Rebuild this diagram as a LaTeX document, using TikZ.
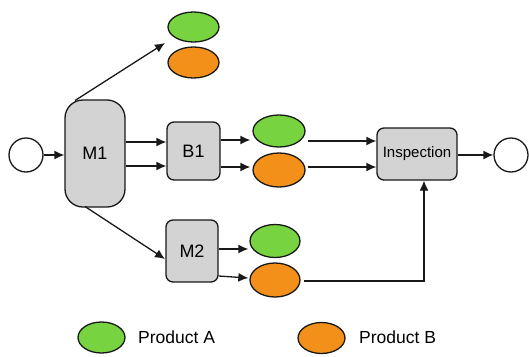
\documentclass[tikz,border=0pt]{standalone}
\usepackage{fontspec}
\setmainfont{Liberation Sans}
\usetikzlibrary{arrows.meta,shapes.geometric,calc}
\definecolor{boxgray}{HTML}{D3D3D3}
\definecolor{prodA}{HTML}{77D33F}
\definecolor{prodB}{HTML}{F39019}
\tikzset{
  ln/.style={line width=1.3pt, draw=black!90},
  arr/.style={ln, -{Latex[length=10pt,width=9pt]}},
  proc/.style={ln, fill=boxgray, rounded corners=7pt, inner sep=0pt, font=\fontsize{18}{18}\selectfont},
  term/.style={ln, circle, fill=white, minimum size=34pt, inner sep=0pt},
  pa/.style={ln, ellipse, fill=prodA, inner sep=0pt},
  pb/.style={ln, ellipse, fill=prodB, inner sep=0pt},
  lbl/.style={anchor=west, inner sep=0pt, font=\fontsize{17.5}{18}\selectfont}
}
\begin{document}
\begin{tikzpicture}[x=1pt,y=-1pt]
\useasboundingbox (0,0) rectangle (529,356);
% terminals
\node[term] (start) at (26,155) {};
\node[term] (end) at (511,155) {};
% process boxes
\node[proc, rounded corners=18pt, minimum width=60pt, minimum height=107pt] (M1) at (95,153.5) {M1};
\node[proc, minimum width=53pt, minimum height=58pt] (B1) at (193.5,151) {B1};
\node[proc, minimum width=52pt, minimum height=62pt] (M2) at (192,251) {M2};
\node[proc, minimum width=80pt, minimum height=52pt, font=\fontsize{15}{15}\selectfont] (insp) at (417,154) {Inspection};
% products
\node[pa, minimum width=51pt, minimum height=30pt] (gA1) at (193.5,27) {};
\node[pb, minimum width=51pt, minimum height=31pt] (gB1) at (193.5,62.5) {};
\node[pa, minimum width=52pt, minimum height=32pt] (gA2) at (279,131) {};
\node[pb, minimum width=52pt, minimum height=34pt] (gB2) at (279,170) {};
\node[pa, minimum width=50pt, minimum height=33pt] (gA3) at (275,241) {};
\node[pb, minimum width=50pt, minimum height=34pt] (gB3) at (275,280) {};
% legend
\node[pa, minimum width=47pt, minimum height=31pt] (lA) at (101.5,337.5) {};
\node[lbl] (tA) at (138,337) {Product A};
\node[pb, minimum width=47pt, minimum height=31pt] (lB) at (321.5,338) {};
\node[lbl] (tB) at (359,337) {Product B};
% connectors
\coordinate (t1) at (165,43);
\coordinate (m1top) at (75,100.5);
\coordinate (m1bot) at (85,206.5);
\coordinate (m2in) at (165,259);
\draw[arr] (start.east) -- (start.east -| M1.west);
\draw[arr] (m1top) -- (t1);
\draw[arr] (M1.east |- 0,142) -- (B1.west |- 0,142);
\draw[arr] (M1.east |- 0,166) -- (B1.west |- 0,166);
\draw[arr] (m1bot) -- (m2in);
\draw[arr] (B1.east |- 0,140) -- ([xshift=-2pt]gA2.west |- 0,140);
\draw[arr] (B1.east |- 0,167) -- ([xshift=-2pt]gB2.west |- 0,167);
\draw[arr] ([xshift=2pt]gA2.east |- 0,141) -- (insp.west |- 0,141);
\draw[arr] ([xshift=2pt]gB2.east |- 0,167) -- (insp.west |- 0,167);
\draw[arr] (insp.east |- end.west) -- (end.west);
\draw[arr] (M2.east |- 0,249) -- ([xshift=-1pt]gA3.west |- 0,249);
\draw[arr] (M2.east |- 0,276) -- ([xshift=-1pt]gB3.west |- 0,278);
\draw[arr] ([xshift=3pt]gB3.east |- 0,281) -| ([xshift=7pt]insp.south);
\end{tikzpicture}
\end{document}
